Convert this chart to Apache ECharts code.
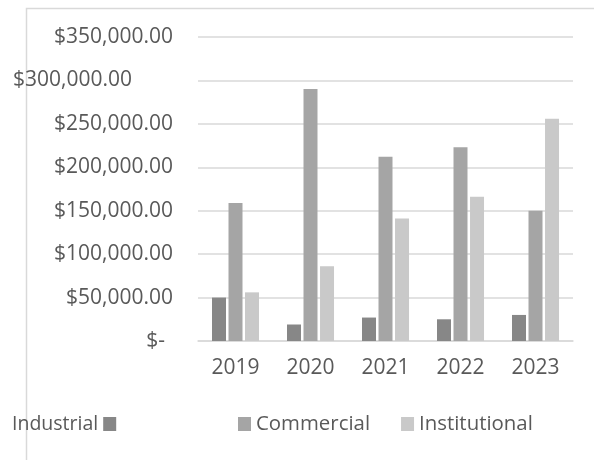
<!DOCTYPE html>
<html>
<head>
<meta charset="utf-8">
<script src="https://cdn.jsdelivr.net/npm/echarts@6/dist/echarts.min.js"></script>
<style>
  html, body { margin: 0; padding: 0; background: #ffffff; }
  #chart { width: 594px; height: 460px; }
</style>
</head>
<body>
<div id="chart"></div>
<script>
// Yearly revenue by sector
const years = ['2019', '2020', '2021', '2022', '2023'];
const industrial = [50000, 19000, 27000, 25000, 30000];
const commercial = [159000, 290000, 212000, 223000, 150000];
const institutional = [56000, 86000, 141000, 166000, 256000];
const seriesNames = ['Industrial', 'Commercial', 'Institutional'];
const seriesColors = ['#878787', '#a5a5a5', '#c9c9c9'];

const FONT = '"Open Sans", "Noto Sans", sans-serif';
const TEXT = '#595959';
const AXIS_FS = 21;

function money(v) {
  if (v === 0) return '{zero|$-}';
  const s = '$' + v.toLocaleString('en-US', { minimumFractionDigits: 2, maximumFractionDigits: 2 });
  return v === 300000 ? '{wide|' + s + '}' : s;
}

const chart = echarts.init(document.getElementById('chart'), null, { renderer: 'canvas' });

const values = [industrial, commercial, institutional];

chart.setOption({
  animation: false,
  backgroundColor: '#ffffff',
  textStyle: { fontFamily: FONT },
  graphic: [{
    type: 'rect',
    shape: { x: 26.5, y: 8.5, width: 620, height: 520 },
    style: { fill: 'none', stroke: '#d9d9d9', lineWidth: 1.5 },
    silent: true
  }],
  grid: { left: 198, right: 21, top: 37, bottom: 119, containLabel: false },
  legend: [{
    data: [seriesNames[0]],
    left: 7, top: 409,
    align: 'right',
    icon: 'rect', itemWidth: 13, itemHeight: 14, itemGap: 0,
    textStyle: { color: TEXT, fontSize: 19.5, fontFamily: FONT }
  }, {
    data: [seriesNames[1], seriesNames[2]],
    left: 233, top: 409,
    align: 'left',
    icon: 'rect', itemWidth: 13, itemHeight: 14, itemGap: 31,
    textStyle: { color: TEXT, fontSize: 20.4, fontFamily: FONT }
  }],
  xAxis: {
    type: 'category',
    data: years,
    axisLine: { show: true, lineStyle: { color: '#d9d9d9', width: 1.5 } },
    axisTick: { show: false },
    axisLabel: { color: TEXT, fontSize: AXIS_FS, fontFamily: FONT, margin: 17 }
  },
  yAxis: {
    type: 'value',
    min: 0, max: 350000, interval: 50000,
    axisLine: { show: false },
    axisTick: { show: false },
    splitLine: { lineStyle: { color: '#d9d9d9', width: 1.5 } },
    axisLabel: {
      color: TEXT, fontSize: AXIS_FS, fontFamily: FONT, margin: 25,
      formatter: money,
      rich: {
        wide: { color: TEXT, fontSize: AXIS_FS, fontFamily: FONT, padding: [0, 41, 0, 0] },
        zero: { color: TEXT, fontSize: AXIS_FS, fontFamily: FONT, padding: [0, 8, 0, 0] }
      }
    }
  },
  series: seriesNames.map((name, i) => ({
    name: name,
    type: 'bar',
    data: values[i],
    barWidth: 14,
    barGap: '18%',
    itemStyle: { color: seriesColors[i] }
  }))
});
</script>
</body>
</html>
